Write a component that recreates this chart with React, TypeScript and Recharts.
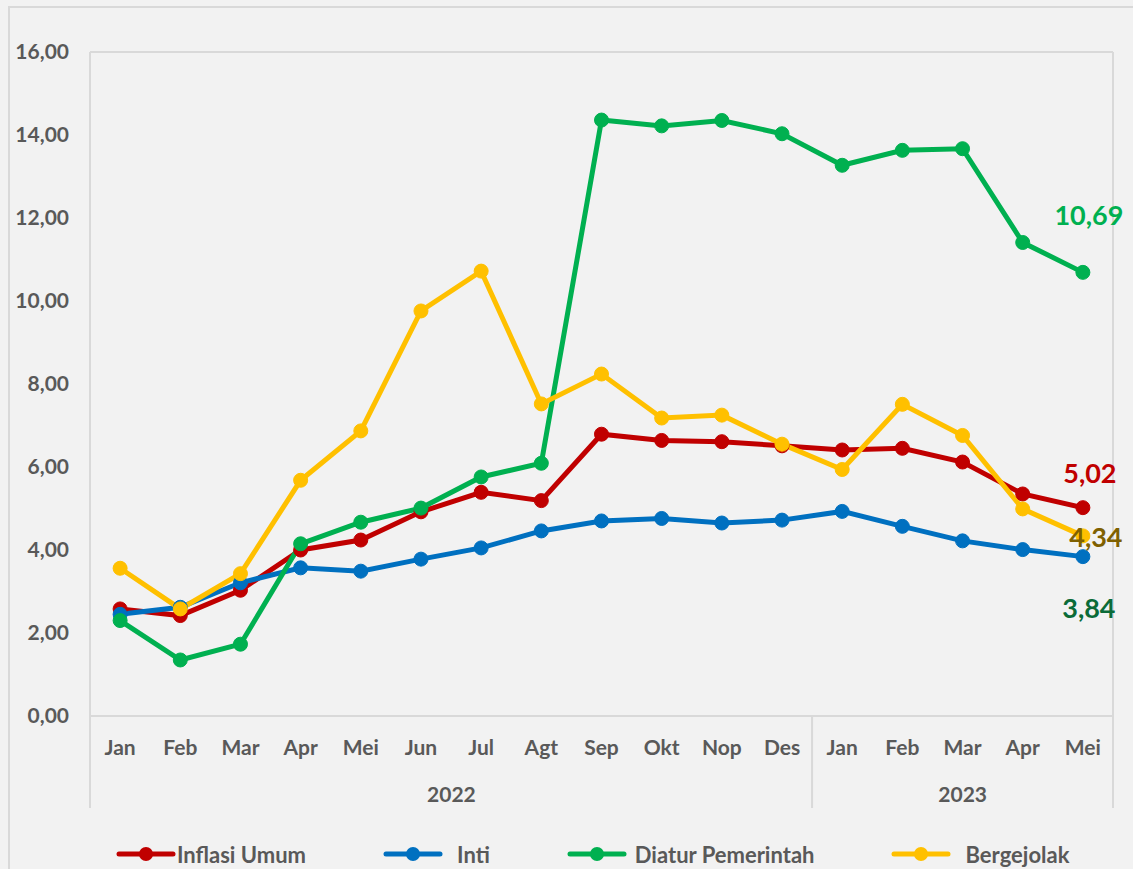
import { LineChart, Line, XAxis, YAxis, Legend, LabelList, ReferenceLine } from "recharts";

const months = ["Jan", "Feb", "Mar", "Apr", "Mei", "Jun", "Jul", "Agt", "Sep", "Okt", "Nop", "Des", "Jan", "Feb", "Mar", "Apr", "Mei"];
const yearGroups = [
  { label: "2022", count: 12 },
  { label: "2023", count: 5 },
];
const umum = [2.58, 2.42, 3.03, 4.0, 4.24, 4.92, 5.39, 5.19, 6.79, 6.64, 6.61, 6.51, 6.41, 6.45, 6.12, 5.35, 5.02];
const inti = [2.45, 2.62, 3.21, 3.57, 3.49, 3.78, 4.05, 4.46, 4.70, 4.76, 4.65, 4.72, 4.93, 4.57, 4.22, 4.01, 3.84];
const diatur = [2.30, 1.35, 1.73, 4.15, 4.67, 5.01, 5.76, 6.09, 14.36, 14.22, 14.35, 14.03, 13.27, 13.63, 13.67, 11.41, 10.69];
const bergejolak = [3.56, 2.58, 3.43, 5.68, 6.87, 9.76, 10.72, 7.52, 8.24, 7.18, 7.25, 6.55, 5.94, 7.51, 6.76, 4.99, 4.34];
const yTicks = [0, 2, 4, 6, 8, 10, 12, 14, 16];

const data = months.map((m, i) => ({
  month: m,
  umum: umum[i],
  inti: inti[i],
  diatur: diatur[i],
  bergejolak: bergejolak[i],
}));

const series = [
  { key: "umum", name: "Inflasi Umum", color: "#c00000", labelColor: "#c00000", dx: 7, dy: -35, gap: 1 },
  { key: "inti", name: "Inti", color: "#0070c0", labelColor: "#0b6b38", dx: 6, dy: 51, gap: 14 },
  { key: "diatur", name: "Diatur Pemerintah", color: "#00b050", labelColor: "#00b050", dx: 6, dy: -58, gap: 8 },
  { key: "bergejolak", name: "Bergejolak", color: "#ffc000", labelColor: "#7f6000", dx: 13, dy: 1, gap: 14 },
];

const W = 1133;
const H = 869;
const M = { top: 52, right: 19, left: 0, bottom: 0 };
const Y_W = 90;
const BAND = (W - M.left - M.right - Y_W) / months.length;
const FONT = "Lato, 'Open Sans', sans-serif";
const TXT = "#595959";
const GRID = "#d9d9d9";

const fmt = (v: number) => v.toFixed(2).replace(".", ",");

function MonthTick(props: any) {
  const { x, y, payload, index } = props;
  const i = index ?? payload.index;
  const top = y - 8;
  const parts: any[] = [
    <text key="m" x={x} y={y + 31} textAnchor="middle" fill={TXT} fontSize={21} fontWeight={700} fontFamily={FONT}>
      {payload.value}
    </text>,
  ];
  let start = 0;
  yearGroups.forEach((g, gi) => {
    const end = start + g.count - 1;
    if (i === start) {
      parts.push(
        <line key={"s" + gi} x1={x - BAND / 2} x2={x - BAND / 2} y1={top} y2={top + 92} stroke={GRID} strokeWidth={2} />,
        <text key={"y" + gi} x={x + ((g.count - 1) / 2) * BAND} y={top + 86} textAnchor="middle" fill={TXT} fontSize={21} fontWeight={700} fontFamily={FONT}>
          {g.label}
        </text>
      );
    }
    if (i === months.length - 1 && i === end) {
      parts.push(<line key="e" x1={x + BAND / 2} x2={x + BAND / 2} y1={top} y2={top + 92} stroke={GRID} strokeWidth={2} />);
    }
    start += g.count;
  });
  return <g>{parts}</g>;
}

function LegendBox() {
  return (
    <div
      style={{
        display: "flex",
        paddingLeft: 116,
        fontFamily: FONT,
        fontWeight: 700,
        fontSize: 22,
        color: TXT,
        height: 30,
        alignItems: "center",
        whiteSpace: "nowrap",
        width: W,
        boxSizing: "border-box",
      }}
    >
      {series.map((s, i) => (
        <div key={s.key} style={{ display: "flex", alignItems: "center", flexShrink: 0, marginRight: i < series.length - 1 ? 77 : 0 }}>
          <svg width={60} height={16} style={{ flexShrink: 0 }}>
            <line x1={3} x2={57} y1={8} y2={8} stroke={s.color} strokeWidth={5} strokeLinecap="round" />
            <circle cx={30} cy={8} r={7} fill={s.color} />
          </svg>
          <span style={{ marginLeft: s.gap }}>{s.name}</span>
        </div>
      ))}
    </div>
  );
}

function lastLabel(s: (typeof series)[number]) {
  return (p: any) => {
    if (p.index !== months.length - 1) return null;
    return (
      <text x={p.x + s.dx} y={p.y + s.dy} textAnchor="middle" dominantBaseline="central" fill={s.labelColor} fontSize={27} fontWeight={700} fontFamily={FONT}>
        {fmt(p.value)}
      </text>
    );
  };
}

export default function App() {
  return (
    <div style={{ position: "absolute", left: 0, top: 0, width: W, height: H, background: "#f2f2f2", overflow: "hidden" }}>
      <div style={{ position: "absolute", left: 8, top: 6, width: W, height: H, border: `2px solid ${GRID}` }} />
      <LineChart width={W} height={H} data={data} margin={M} style={{ position: "absolute", left: 0, top: 0 }}>
        <XAxis
          dataKey="month"
          interval={0}
          padding={{ left: BAND / 2, right: BAND / 2 }}
          tickLine={false}
          axisLine={{ stroke: GRID, strokeWidth: 2 }}
          height={123}
          tick={<MonthTick />}
        />
        <YAxis
          yAxisId="left"
          width={Y_W}
          domain={[0, 16]}
          ticks={yTicks}
          tickFormatter={fmt}
          tickLine={false}
          tickMargin={15}
          axisLine={{ stroke: GRID, strokeWidth: 2 }}
          tick={{ fill: TXT, fontSize: 21, fontWeight: 700, fontFamily: FONT }}
        />
        <YAxis yAxisId="right" orientation="right" width={1} domain={[0, 16]} tick={false} tickLine={false} axisLine={{ stroke: GRID, strokeWidth: 2 }} />
        <ReferenceLine yAxisId="left" y={16} stroke={GRID} strokeWidth={2} />
        <Legend verticalAlign="bottom" height={30} content={<LegendBox />} wrapperStyle={{ left: 0, width: W }} />
        {series.map((s) => (
          <Line
            key={s.key}
            yAxisId="left"
            dataKey={s.key}
            name={s.name}
            stroke={s.color}
            strokeWidth={5}
            dot={{ r: 7, fill: s.color, stroke: s.color, strokeWidth: 1 }}
            activeDot={false}
            isAnimationActive={false}
          >
            <LabelList dataKey={s.key} content={lastLabel(s)} />
          </Line>
        ))}
      </LineChart>
    </div>
  );
}
